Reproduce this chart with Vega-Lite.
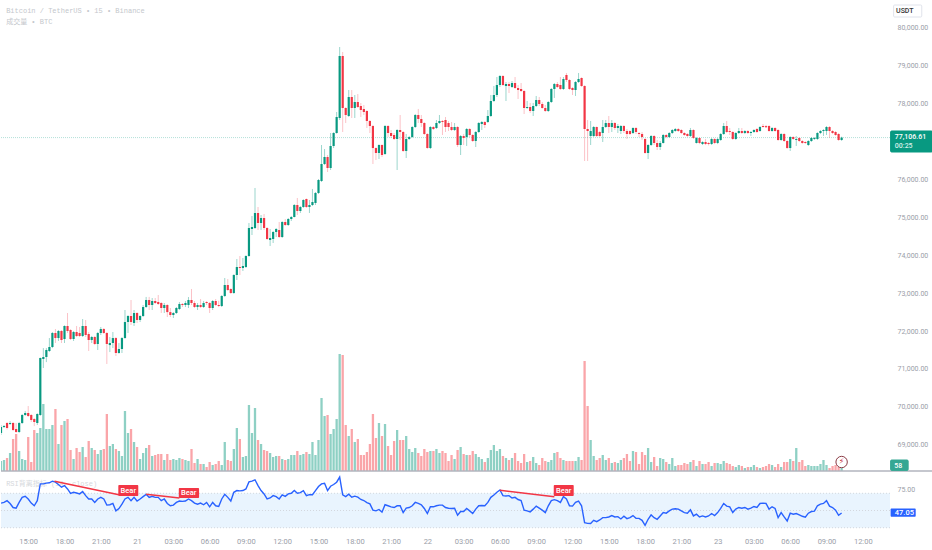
{"$schema":"https://vega.github.io/schema/vega-lite/v6.json","background":"white","padding":0,"spacing":1,"config":{"view":{"stroke":null},"text":{"font":"Roboto"}},
"datasets":{"bars":[
{"i":0,"o":69308,"h":69520,"l":69255,"c":69466,"v":150,"r":58.6},
{"i":1,"o":69466,"h":69520,"l":69440,"c":69490,"v":165,"r":59.4},
{"i":2,"o":69572,"h":69600,"l":69400,"c":69440,"v":195,"r":61.4},
{"i":3,"o":69545,"h":69620,"l":69520,"c":69572,"v":270,"r":58.2},
{"i":4,"o":69572,"h":69600,"l":69360,"c":69387,"v":480,"r":53.5},
{"i":5,"o":69413,"h":69570,"l":69310,"c":69335,"v":555,"r":52.7},
{"i":6,"o":69335,"h":69600,"l":69310,"c":69572,"v":300,"r":59.4},
{"i":7,"o":69572,"h":69810,"l":69545,"c":69783,"v":180,"r":65.3},
{"i":8,"o":69783,"h":69890,"l":69760,"c":69836,"v":165,"r":66.5},
{"i":9,"o":69836,"h":70020,"l":69730,"c":69757,"v":510,"r":63.4},
{"i":10,"o":69783,"h":69810,"l":69600,"c":69651,"v":135,"r":58.6},
{"i":11,"o":69677,"h":69700,"l":69490,"c":69598,"v":615,"r":55.5},
{"i":12,"o":69572,"h":69830,"l":69520,"c":69810,"v":570,"r":61.4},
{"i":13,"o":69783,"h":71300,"l":69760,"c":71288,"v":645,"r":81},
{"i":14,"o":71262,"h":71550,"l":71024,"c":71315,"v":1005,"r":81},
{"i":15,"o":71315,"h":71550,"l":71180,"c":71499,"v":630,"r":81.8},
{"i":16,"o":71473,"h":71815,"l":71445,"c":71578,"v":630,"r":82.2},
{"i":17,"o":71578,"h":71975,"l":71550,"c":71948,"v":690,"r":84.1},
{"i":18,"o":71948,"h":72053,"l":71684,"c":71815,"v":930,"r":82.9},
{"i":19,"o":71815,"h":72027,"l":71737,"c":72001,"v":405,"r":80.2},
{"i":20,"o":72001,"h":72027,"l":71684,"c":71763,"v":690,"r":77.1},
{"i":21,"o":71790,"h":72150,"l":71684,"c":72133,"v":750,"r":79},
{"i":22,"o":72133,"h":72476,"l":71948,"c":72001,"v":780,"r":75.1},
{"i":23,"o":72027,"h":72050,"l":71763,"c":71790,"v":315,"r":70},
{"i":24,"o":71790,"h":72000,"l":71737,"c":71974,"v":180,"r":71.2},
{"i":25,"o":71974,"h":72133,"l":71842,"c":71868,"v":345,"r":70.4},
{"i":26,"o":71948,"h":72106,"l":71842,"c":71868,"v":285,"r":69.3},
{"i":27,"o":71868,"h":72317,"l":71842,"c":72133,"v":360,"r":72},
{"i":28,"o":72133,"h":72291,"l":71842,"c":71895,"v":210,"r":67.3},
{"i":29,"o":71921,"h":71975,"l":71473,"c":71763,"v":450,"r":63.4},
{"i":30,"o":71763,"h":71870,"l":71684,"c":71842,"v":345,"r":63.4},
{"i":31,"o":71842,"h":71870,"l":71630,"c":71657,"v":315,"r":59.4},
{"i":32,"o":71657,"h":71975,"l":71499,"c":71948,"v":255,"r":63.4},
{"i":33,"o":71948,"h":72106,"l":71895,"c":72053,"v":315,"r":65.3},
{"i":34,"o":72053,"h":72080,"l":71921,"c":71948,"v":330,"r":63.4},
{"i":35,"o":71948,"h":71975,"l":71130,"c":71657,"v":855,"r":56.3},
{"i":36,"o":71630,"h":71842,"l":71445,"c":71684,"v":375,"r":56.7},
{"i":37,"o":71684,"h":71974,"l":71552,"c":71815,"v":405,"r":58.2},
{"i":38,"o":71815,"h":71840,"l":71340,"c":71420,"v":330,"r":49.6},
{"i":39,"o":71420,"h":71684,"l":71400,"c":71525,"v":300,"r":52.3},
{"i":40,"o":71525,"h":71840,"l":71420,"c":71815,"v":225,"r":57.4},
{"i":41,"o":71815,"h":72555,"l":71800,"c":72238,"v":900,"r":63.4},
{"i":42,"o":72238,"h":72420,"l":71948,"c":72397,"v":570,"r":65.3},
{"i":43,"o":72397,"h":72819,"l":72159,"c":72238,"v":630,"r":61.4},
{"i":44,"o":72212,"h":72555,"l":72133,"c":72476,"v":435,"r":65.3},
{"i":45,"o":72476,"h":72500,"l":72212,"c":72291,"v":360,"r":61},
{"i":46,"o":72291,"h":72420,"l":72238,"c":72397,"v":180,"r":63.4},
{"i":47,"o":72397,"h":72687,"l":72370,"c":72634,"v":270,"r":66.1},
{"i":48,"o":72634,"h":72900,"l":72610,"c":72819,"v":345,"r":68.8},
{"i":49,"o":72819,"h":72900,"l":72555,"c":72687,"v":390,"r":65.3},
{"i":50,"o":72687,"h":72872,"l":72555,"c":72793,"v":225,"r":66.5},
{"i":51,"o":72793,"h":72872,"l":72714,"c":72740,"v":240,"r":65.3},
{"i":52,"o":72766,"h":72951,"l":72687,"c":72714,"v":255,"r":65.3},
{"i":53,"o":72740,"h":72765,"l":72476,"c":72608,"v":255,"r":61.4},
{"i":54,"o":72608,"h":72740,"l":72476,"c":72687,"v":165,"r":63.4},
{"i":55,"o":72687,"h":72710,"l":72370,"c":72500,"v":255,"r":58.2},
{"i":56,"o":72500,"h":72608,"l":72370,"c":72423,"v":165,"r":55.5},
{"i":57,"o":72423,"h":72500,"l":72344,"c":72476,"v":180,"r":56.3},
{"i":58,"o":72476,"h":72634,"l":72450,"c":72608,"v":165,"r":59.4},
{"i":59,"o":72582,"h":72766,"l":72555,"c":72714,"v":195,"r":61},
{"i":60,"o":72714,"h":72740,"l":72634,"c":72687,"v":180,"r":60.6},
{"i":61,"o":72687,"h":72793,"l":72634,"c":72740,"v":165,"r":61},
{"i":62,"o":72687,"h":72898,"l":72608,"c":72819,"v":150,"r":63.4},
{"i":63,"o":72819,"h":73110,"l":72687,"c":72740,"v":330,"r":61.4},
{"i":64,"o":72740,"h":72793,"l":72608,"c":72634,"v":120,"r":58.6},
{"i":65,"o":72634,"h":72740,"l":72555,"c":72687,"v":180,"r":57.4},
{"i":66,"o":72687,"h":72845,"l":72610,"c":72634,"v":105,"r":58.6},
{"i":67,"o":72634,"h":72793,"l":72608,"c":72740,"v":105,"r":56.7},
{"i":68,"o":72766,"h":72790,"l":72687,"c":72740,"v":60,"r":59.4},
{"i":69,"o":72740,"h":72766,"l":72476,"c":72608,"v":135,"r":54.3},
{"i":70,"o":72608,"h":72819,"l":72555,"c":72793,"v":90,"r":59.4},
{"i":71,"o":72793,"h":72845,"l":72660,"c":72687,"v":105,"r":55.5},
{"i":72,"o":72687,"h":72800,"l":72630,"c":72660,"v":150,"r":54.7},
{"i":73,"o":72660,"h":72950,"l":72634,"c":72925,"v":90,"r":63.4},
{"i":74,"o":72925,"h":73400,"l":72898,"c":73215,"v":435,"r":68.8},
{"i":75,"o":73215,"h":73373,"l":73057,"c":73083,"v":165,"r":65.3},
{"i":76,"o":73110,"h":73130,"l":72977,"c":73004,"v":150,"r":61},
{"i":77,"o":73004,"h":73500,"l":72980,"c":73479,"v":330,"r":71.2},
{"i":78,"o":73479,"h":73901,"l":73347,"c":73690,"v":645,"r":73.2},
{"i":79,"o":73690,"h":73981,"l":73479,"c":73664,"v":480,"r":72.8},
{"i":80,"o":73664,"h":73928,"l":73585,"c":73717,"v":210,"r":73.2},
{"i":81,"o":73690,"h":74000,"l":73664,"c":73981,"v":225,"r":75.1},
{"i":82,"o":73981,"h":74852,"l":73960,"c":74720,"v":990,"r":83.3},
{"i":83,"o":74693,"h":75037,"l":74535,"c":74746,"v":570,"r":84.1},
{"i":84,"o":74720,"h":75776,"l":74693,"c":75116,"v":945,"r":85.7},
{"i":85,"o":75116,"h":75274,"l":74667,"c":74852,"v":465,"r":79},
{"i":86,"o":74852,"h":75063,"l":74667,"c":74984,"v":405,"r":73.2},
{"i":87,"o":74984,"h":75090,"l":74667,"c":74720,"v":315,"r":69.3},
{"i":88,"o":74720,"h":74745,"l":74403,"c":74430,"v":300,"r":63.4},
{"i":89,"o":74403,"h":74693,"l":74245,"c":74456,"v":270,"r":64.6},
{"i":90,"o":74430,"h":74640,"l":74324,"c":74614,"v":210,"r":67.3},
{"i":91,"o":74614,"h":74720,"l":74482,"c":74693,"v":225,"r":66.1},
{"i":92,"o":74667,"h":74878,"l":74456,"c":74482,"v":225,"r":63.4},
{"i":93,"o":74482,"h":74900,"l":74456,"c":74878,"v":180,"r":68.1},
{"i":94,"o":74878,"h":74957,"l":74773,"c":74799,"v":165,"r":66.5},
{"i":95,"o":74799,"h":74984,"l":74773,"c":74957,"v":180,"r":69.3},
{"i":96,"o":74957,"h":75037,"l":74905,"c":75010,"v":240,"r":70},
{"i":97,"o":75010,"h":75353,"l":75000,"c":75327,"v":240,"r":73.2},
{"i":98,"o":75327,"h":75512,"l":75063,"c":75169,"v":300,"r":70},
{"i":99,"o":75169,"h":75300,"l":75116,"c":75274,"v":240,"r":70.8},
{"i":100,"o":75274,"h":75480,"l":75250,"c":75459,"v":255,"r":73.1},
{"i":101,"o":75485,"h":75500,"l":75248,"c":75274,"v":285,"r":67.2},
{"i":102,"o":75274,"h":75459,"l":75116,"c":75327,"v":255,"r":68.4},
{"i":103,"o":75327,"h":75750,"l":75300,"c":75406,"v":435,"r":68.4},
{"i":104,"o":75380,"h":75670,"l":75327,"c":75644,"v":240,"r":73.1},
{"i":105,"o":75644,"h":76013,"l":75617,"c":75987,"v":465,"r":77.8},
{"i":106,"o":75960,"h":76911,"l":75934,"c":76409,"v":1095,"r":80.9},
{"i":107,"o":76409,"h":76805,"l":76383,"c":76594,"v":825,"r":81.7},
{"i":108,"o":76594,"h":76647,"l":76198,"c":76304,"v":840,"r":73.1},
{"i":109,"o":76304,"h":77228,"l":76251,"c":76885,"v":555,"r":78.2},
{"i":110,"o":76885,"h":77250,"l":76831,"c":77228,"v":630,"r":80.2},
{"i":111,"o":77228,"h":77782,"l":77210,"c":77650,"v":780,"r":82.9},
{"i":112,"o":77624,"h":79498,"l":77571,"c":79261,"v":1755,"r":88.9},
{"i":113,"o":79261,"h":79366,"l":77254,"c":77888,"v":1740,"r":68.2},
{"i":114,"o":77888,"h":77910,"l":77492,"c":77703,"v":690,"r":66.2},
{"i":115,"o":77677,"h":78363,"l":77650,"c":78178,"v":525,"r":69},
{"i":116,"o":78178,"h":78363,"l":77624,"c":77888,"v":630,"r":65.5},
{"i":117,"o":77888,"h":78231,"l":77624,"c":78046,"v":435,"r":66.7},
{"i":118,"o":78046,"h":78257,"l":77888,"c":77914,"v":480,"r":65.5},
{"i":119,"o":77941,"h":78020,"l":77650,"c":77835,"v":240,"r":62.8},
{"i":120,"o":77862,"h":77967,"l":77703,"c":77782,"v":240,"r":61.6},
{"i":121,"o":77809,"h":77830,"l":77360,"c":77545,"v":285,"r":59.2},
{"i":122,"o":77545,"h":77570,"l":77228,"c":77413,"v":405,"r":57.7},
{"i":123,"o":77413,"h":77440,"l":76409,"c":76831,"v":855,"r":50.4},
{"i":124,"o":76831,"h":76850,"l":76515,"c":76700,"v":495,"r":49.6},
{"i":125,"o":76700,"h":76930,"l":76541,"c":76911,"v":720,"r":51.2},
{"i":126,"o":76911,"h":76930,"l":76594,"c":76647,"v":525,"r":48.1},
{"i":127,"o":76673,"h":77440,"l":76647,"c":77413,"v":705,"r":56.7},
{"i":128,"o":77413,"h":77439,"l":77122,"c":77228,"v":375,"r":55.5},
{"i":129,"o":77228,"h":77307,"l":77096,"c":77149,"v":240,"r":54.3},
{"i":130,"o":77175,"h":77228,"l":77043,"c":77070,"v":450,"r":53.5},
{"i":131,"o":77070,"h":77330,"l":76251,"c":77307,"v":615,"r":55.5},
{"i":132,"o":77307,"h":77703,"l":77043,"c":77254,"v":465,"r":55.5},
{"i":133,"o":77254,"h":77280,"l":76726,"c":76753,"v":465,"r":47.6},
{"i":134,"o":76753,"h":77202,"l":76568,"c":77070,"v":525,"r":52.7},
{"i":135,"o":77070,"h":77150,"l":77043,"c":77122,"v":330,"r":53.5},
{"i":136,"o":77122,"h":77410,"l":77100,"c":77386,"v":285,"r":55.5},
{"i":137,"o":77386,"h":77730,"l":77360,"c":77703,"v":345,"r":59.4},
{"i":138,"o":77703,"h":77862,"l":77492,"c":77597,"v":270,"r":58.2},
{"i":139,"o":77597,"h":77703,"l":77386,"c":77492,"v":225,"r":56.7},
{"i":140,"o":77492,"h":77515,"l":77175,"c":77201,"v":330,"r":52.4},
{"i":141,"o":77201,"h":77225,"l":76810,"c":76831,"v":285,"r":46.5},
{"i":142,"o":76831,"h":77410,"l":76805,"c":77386,"v":300,"r":54.3},
{"i":143,"o":77386,"h":77410,"l":77307,"c":77333,"v":300,"r":54.3},
{"i":144,"o":77360,"h":77571,"l":77333,"c":77492,"v":330,"r":55.5},
{"i":145,"o":77492,"h":77703,"l":77465,"c":77545,"v":270,"r":56.3},
{"i":146,"o":77545,"h":77571,"l":77175,"c":77518,"v":300,"r":56.3},
{"i":147,"o":77571,"h":77650,"l":77254,"c":77386,"v":270,"r":53.5},
{"i":148,"o":77492,"h":77545,"l":77280,"c":77386,"v":150,"r":52.7},
{"i":149,"o":77386,"h":77518,"l":77280,"c":77307,"v":240,"r":52.4},
{"i":150,"o":77307,"h":77492,"l":77280,"c":77386,"v":180,"r":52.7},
{"i":151,"o":77386,"h":77410,"l":76858,"c":76911,"v":315,"r":44.5},
{"i":152,"o":76911,"h":77175,"l":76647,"c":77149,"v":360,"r":48.8},
{"i":153,"o":77149,"h":77202,"l":76911,"c":77096,"v":255,"r":48.8},
{"i":154,"o":77122,"h":77360,"l":76885,"c":77333,"v":240,"r":52.4},
{"i":155,"o":77333,"h":77360,"l":77122,"c":77175,"v":240,"r":49.6},
{"i":156,"o":77175,"h":77200,"l":76990,"c":77017,"v":300,"r":46.5},
{"i":157,"o":77017,"h":77280,"l":76858,"c":77254,"v":255,"r":51.6},
{"i":158,"o":77254,"h":77518,"l":77228,"c":77492,"v":210,"r":55.5},
{"i":159,"o":77465,"h":77545,"l":77307,"c":77518,"v":180,"r":55.9},
{"i":160,"o":77518,"h":77545,"l":77360,"c":77439,"v":135,"r":55.5},
{"i":161,"o":77518,"h":77835,"l":77492,"c":77677,"v":195,"r":59.4},
{"i":162,"o":77677,"h":78231,"l":77650,"c":78073,"v":315,"r":65.3},
{"i":163,"o":78073,"h":78469,"l":78046,"c":78231,"v":390,"r":68},
{"i":164,"o":78231,"h":78706,"l":78178,"c":78495,"v":300,"r":71.2},
{"i":165,"o":78495,"h":78759,"l":78442,"c":78733,"v":330,"r":73.9},
{"i":166,"o":78733,"h":78759,"l":78469,"c":78495,"v":225,"r":67.3},
{"i":167,"o":78469,"h":78574,"l":78073,"c":78521,"v":195,"r":66.9},
{"i":168,"o":78521,"h":78574,"l":78284,"c":78469,"v":165,"r":67.3},
{"i":169,"o":78442,"h":78600,"l":78416,"c":78548,"v":195,"r":64.5},
{"i":170,"o":78548,"h":78706,"l":78390,"c":78416,"v":270,"r":65.3},
{"i":171,"o":78416,"h":78495,"l":78126,"c":78363,"v":150,"r":62.8},
{"i":172,"o":78390,"h":78548,"l":78310,"c":78337,"v":120,"r":61.6},
{"i":173,"o":78337,"h":78360,"l":77729,"c":77888,"v":255,"r":50.4},
{"i":174,"o":77888,"h":78073,"l":77862,"c":77914,"v":135,"r":49.6},
{"i":175,"o":77914,"h":78020,"l":77756,"c":77809,"v":150,"r":48.4},
{"i":176,"o":77809,"h":78020,"l":77677,"c":77941,"v":210,"r":51.6},
{"i":177,"o":77941,"h":78205,"l":77914,"c":78099,"v":120,"r":55.1},
{"i":178,"o":78099,"h":78178,"l":77941,"c":77994,"v":90,"r":52.7},
{"i":179,"o":77994,"h":78046,"l":77870,"c":77888,"v":195,"r":50.4},
{"i":180,"o":77888,"h":77967,"l":77782,"c":77809,"v":150,"r":47.6},
{"i":181,"o":77809,"h":78070,"l":77782,"c":78046,"v":135,"r":55.5},
{"i":182,"o":78046,"h":78416,"l":78020,"c":78390,"v":165,"r":61.4},
{"i":183,"o":78390,"h":78548,"l":78152,"c":78521,"v":270,"r":62.6},
{"i":184,"o":78521,"h":78574,"l":78416,"c":78442,"v":285,"r":61.4},
{"i":185,"o":78495,"h":78706,"l":78363,"c":78390,"v":195,"r":59.4},
{"i":186,"o":78390,"h":78706,"l":78363,"c":78653,"v":165,"r":66.1},
{"i":187,"o":78759,"h":78812,"l":78574,"c":78627,"v":150,"r":63.4},
{"i":188,"o":78627,"h":78650,"l":78363,"c":78390,"v":150,"r":55.5},
{"i":189,"o":78416,"h":78440,"l":78231,"c":78363,"v":150,"r":55.1},
{"i":190,"o":78363,"h":78600,"l":78205,"c":78574,"v":150,"r":59.4},
{"i":191,"o":78574,"h":78812,"l":78548,"c":78653,"v":210,"r":61},
{"i":192,"o":78680,"h":78700,"l":78442,"c":78469,"v":165,"r":55.5},
{"i":193,"o":78469,"h":78490,"l":76489,"c":77333,"v":1650,"r":35.9},
{"i":194,"o":77333,"h":77571,"l":76489,"c":77280,"v":975,"r":35.1},
{"i":195,"o":77149,"h":77545,"l":76911,"c":77280,"v":465,"r":35},
{"i":196,"o":77149,"h":77413,"l":77122,"c":77386,"v":225,"r":38.6},
{"i":197,"o":77386,"h":77400,"l":77122,"c":77149,"v":165,"r":37.1},
{"i":198,"o":77254,"h":77280,"l":77122,"c":77149,"v":195,"r":39},
{"i":199,"o":77228,"h":77571,"l":76990,"c":77386,"v":240,"r":41.7},
{"i":200,"o":77386,"h":77571,"l":77360,"c":77492,"v":165,"r":41.7},
{"i":201,"o":77492,"h":77677,"l":77228,"c":77386,"v":195,"r":42.5},
{"i":202,"o":77386,"h":77571,"l":77254,"c":77492,"v":120,"r":44.1},
{"i":203,"o":77492,"h":77518,"l":77307,"c":77360,"v":135,"r":42.5},
{"i":204,"o":77360,"h":77465,"l":77228,"c":77413,"v":120,"r":42.9},
{"i":205,"o":77280,"h":77439,"l":77201,"c":77413,"v":165,"r":40.2},
{"i":206,"o":77413,"h":77439,"l":77228,"c":77280,"v":195,"r":43.3},
{"i":207,"o":77280,"h":77333,"l":77070,"c":77201,"v":255,"r":40.6},
{"i":208,"o":77280,"h":77300,"l":77175,"c":77201,"v":150,"r":41.7},
{"i":209,"o":77228,"h":77380,"l":77201,"c":77360,"v":300,"r":44.1},
{"i":210,"o":77360,"h":77386,"l":77201,"c":77254,"v":285,"r":40.9},
{"i":211,"o":77228,"h":77254,"l":77122,"c":77201,"v":105,"r":40.9},
{"i":212,"o":77201,"h":77254,"l":77043,"c":77122,"v":285,"r":38.6},
{"i":213,"o":77070,"h":77096,"l":76680,"c":76700,"v":240,"r":32.7},
{"i":214,"o":76700,"h":76935,"l":76541,"c":76911,"v":345,"r":39.8},
{"i":215,"o":76911,"h":77175,"l":76885,"c":77149,"v":135,"r":44.9},
{"i":216,"o":77149,"h":77175,"l":76911,"c":76964,"v":210,"r":41.7},
{"i":217,"o":76964,"h":77043,"l":76779,"c":76858,"v":75,"r":39.8},
{"i":218,"o":76858,"h":77017,"l":76779,"c":76964,"v":195,"r":43.7},
{"i":219,"o":76964,"h":77201,"l":76950,"c":77175,"v":180,"r":47.6},
{"i":220,"o":77175,"h":77200,"l":77090,"c":77122,"v":135,"r":46.9},
{"i":221,"o":77122,"h":77254,"l":77096,"c":77228,"v":105,"r":49.6},
{"i":222,"o":77228,"h":77333,"l":77201,"c":77307,"v":195,"r":51.6},
{"i":223,"o":77280,"h":77360,"l":77260,"c":77333,"v":75,"r":52},
{"i":224,"o":77333,"h":77360,"l":77254,"c":77280,"v":90,"r":51.6},
{"i":225,"o":77307,"h":77330,"l":77200,"c":77228,"v":90,"r":49.6},
{"i":226,"o":77228,"h":77250,"l":77150,"c":77175,"v":120,"r":47.6},
{"i":227,"o":77201,"h":77225,"l":77125,"c":77149,"v":105,"r":46.9},
{"i":228,"o":77149,"h":77360,"l":77122,"c":77307,"v":135,"r":50.8},
{"i":229,"o":77307,"h":77330,"l":77070,"c":77096,"v":165,"r":43.7},
{"i":230,"o":76964,"h":77122,"l":76950,"c":77096,"v":75,"r":45.7},
{"i":231,"o":77096,"h":77120,"l":76935,"c":76964,"v":150,"r":42.5},
{"i":232,"o":76937,"h":77010,"l":76910,"c":76990,"v":105,"r":43.7},
{"i":233,"o":76990,"h":77070,"l":76910,"c":76937,"v":105,"r":42.5},
{"i":234,"o":76964,"h":76990,"l":76900,"c":76937,"v":135,"r":43.7},
{"i":235,"o":76937,"h":77095,"l":76911,"c":77070,"v":75,"r":46.5},
{"i":236,"o":77070,"h":77095,"l":76935,"c":76964,"v":120,"r":44.1},
{"i":237,"o":76964,"h":77095,"l":76935,"c":77070,"v":120,"r":47.6},
{"i":238,"o":77043,"h":77225,"l":77020,"c":77201,"v":105,"r":52.4},
{"i":239,"o":77201,"h":77492,"l":77175,"c":77413,"v":150,"r":58.2},
{"i":240,"o":77413,"h":77545,"l":77230,"c":77254,"v":120,"r":55.1},
{"i":241,"o":77280,"h":77360,"l":77175,"c":77254,"v":105,"r":54.3},
{"i":242,"o":77254,"h":77275,"l":77045,"c":77070,"v":75,"r":47.6},
{"i":243,"o":77070,"h":77250,"l":77045,"c":77228,"v":60,"r":51.6},
{"i":244,"o":77228,"h":77360,"l":77201,"c":77280,"v":90,"r":53.5},
{"i":245,"o":77280,"h":77360,"l":77201,"c":77228,"v":75,"r":52.7},
{"i":246,"o":77228,"h":77305,"l":77200,"c":77280,"v":45,"r":53.5},
{"i":247,"o":77280,"h":77305,"l":77200,"c":77228,"v":60,"r":51.6},
{"i":248,"o":77228,"h":77280,"l":77149,"c":77254,"v":60,"r":52.7},
{"i":249,"o":77254,"h":77330,"l":77230,"c":77307,"v":90,"r":54.7},
{"i":250,"o":77333,"h":77360,"l":77230,"c":77254,"v":60,"r":53.5},
{"i":251,"o":77280,"h":77410,"l":77260,"c":77386,"v":45,"r":58.2},
{"i":252,"o":77413,"h":77465,"l":77370,"c":77386,"v":60,"r":58.6},
{"i":253,"o":77410,"h":77440,"l":77360,"c":77380,"v":75,"r":58.2},
{"i":254,"o":77413,"h":77435,"l":77260,"c":77280,"v":105,"r":51.6},
{"i":255,"o":77280,"h":77385,"l":77260,"c":77360,"v":90,"r":54.3},
{"i":256,"o":77360,"h":77385,"l":77260,"c":77280,"v":60,"r":52.4},
{"i":257,"o":77307,"h":77330,"l":77020,"c":77043,"v":105,"r":41.7},
{"i":258,"o":77043,"h":77225,"l":77020,"c":77201,"v":60,"r":47.6},
{"i":259,"o":77201,"h":77225,"l":76990,"c":77017,"v":135,"r":42.5},
{"i":260,"o":77017,"h":77040,"l":76810,"c":76831,"v":135,"r":37.8},
{"i":261,"o":76831,"h":77145,"l":76753,"c":77122,"v":180,"r":46.9},
{"i":262,"o":77122,"h":77145,"l":77045,"c":77070,"v":150,"r":45.7},
{"i":263,"o":77043,"h":77149,"l":76885,"c":77070,"v":345,"r":46.5},
{"i":264,"o":77096,"h":77120,"l":76990,"c":77017,"v":135,"r":44.9},
{"i":265,"o":77017,"h":77040,"l":76940,"c":76964,"v":165,"r":43.3},
{"i":266,"o":76990,"h":77010,"l":76940,"c":76964,"v":75,"r":42.2},
{"i":267,"o":76911,"h":77040,"l":76885,"c":77017,"v":90,"r":46.9},
{"i":268,"o":77017,"h":77120,"l":76990,"c":77096,"v":75,"r":48.8},
{"i":269,"o":77070,"h":77120,"l":77045,"c":77096,"v":75,"r":49.2},
{"i":270,"o":77070,"h":77250,"l":77045,"c":77228,"v":75,"r":55.5},
{"i":271,"o":77228,"h":77305,"l":77200,"c":77280,"v":105,"r":57.4},
{"i":272,"o":77280,"h":77330,"l":77150,"c":77307,"v":165,"r":58.2},
{"i":273,"o":77280,"h":77410,"l":77175,"c":77386,"v":90,"r":61.4},
{"i":274,"o":77386,"h":77410,"l":77100,"c":77280,"v":45,"r":55.1},
{"i":275,"o":77280,"h":77305,"l":77200,"c":77228,"v":75,"r":53.5},
{"i":276,"o":77254,"h":77280,"l":77150,"c":77175,"v":90,"r":50.4},
{"i":277,"o":77201,"h":77225,"l":77020,"c":77043,"v":60,"r":44.5},
{"i":278,"o":77043,"h":77130,"l":77020,"c":77107,"v":58,"r":47.05}
]},
"vconcat":[
{"width":889,"height":471,"resolve":{"scale":{"y":"independent"}},
"encoding":{"x":{"field":"i","type":"quantitative","scale":{"domain":[0,294],"nice":false,"zero":false,"padding":0},"axis":null}},
"layer":[
{"data":{"name":"bars"},"mark":{"type":"bar","orient":"vertical","size":2.3,"clip":true},
"encoding":{"y":{"field":"v","type":"quantitative","scale":{"domain":[0,7065],"nice":false},"axis":null},
"color":{"condition":{"test":"datum.c>=datum.o","value":"#8ed0c4"},"value":"#faa5a9"}}},
{"layer":[
{"data":{"values":[{"i":0,"i2":294,"p":77107}]},"mark":{"type":"rule","color":"#089981","opacity":0.3,"strokeDash":[1,1],"strokeWidth":1},
"encoding":{"x2":{"field":"i2"},"y":{"field":"p","type":"quantitative","scale":{"domain":[68305,80739],"nice":false,"zero":false},
"axis":{"orient":"right","values":[69000,70000,71000,72000,73000,74000,75000,76000,78000,79000,80000],"format":",.2f","title":null,"grid":false,"domain":false,"ticks":false,"labelAlign":"left","labelPadding":7,"labelFont":"Roboto","labelFontSize":7,"labelColor":"#9a9ea8"}}}},
{"data":{"name":"bars"},"mark":{"type":"rule","strokeWidth":1,"clip":true},
"encoding":{"y":{"field":"l","type":"quantitative","scale":{"domain":[68305,80739],"nice":false,"zero":false}},"y2":{"field":"h"},
"color":{"condition":{"test":"datum.c>=datum.o","value":"#089981"},"value":"#F23645"},"opacity":{"condition":{"test":"datum.c>=datum.o","value":0.4},"value":0.3}}},
{"data":{"name":"bars"},"mark":{"type":"bar","orient":"vertical","size":2.2,"clip":true},
"encoding":{"y":{"field":"o","type":"quantitative","scale":{"domain":[68305,80739],"nice":false,"zero":false}},"y2":{"field":"c"},
"color":{"condition":{"test":"datum.c>=datum.o","value":"#089981"},"value":"#F23645"}}},
{"data":{"values":[{"i":0,"i2":308,"p":68305}]},"mark":{"type":"rule","color":"#b2b5be","strokeWidth":1.5},
"encoding":{"x2":{"field":"i2"},"y":{"field":"p","type":"quantitative","scale":{"domain":[68305,80739],"nice":false,"zero":false}}}},
{"data":{"values":[{"i":278,"p":68542}]},"mark":{"type":"point","shape":"circle","size":130,"fill":"white","opacity":1,"stroke":"#8a3a44","strokeWidth":1},
"encoding":{"y":{"field":"p","type":"quantitative","scale":{"domain":[68305,80739],"nice":false,"zero":false}}}},
{"data":{"values":[{"i":278,"p":68530,"t":"⚡"}]},"mark":{"type":"text","font":"DejaVu Sans","fontSize":8,"color":"#c2273a"},
"encoding":{"y":{"field":"p","type":"quantitative","scale":{"domain":[68305,80739],"nice":false,"zero":false}},"text":{"field":"t"}}},
{"data":{"values":[{"i":295.2,"i2":304.5,"p":80607,"p2":80290,"f":"#ffffff","s":"#e0e3eb"},{"i":294.2,"i2":308,"p":77281,"p2":76726,"f":"#089981","s":"#089981"},{"i":294.2,"i2":300,"p":68595,"p2":68320,"f":"#35a793","s":"#35a793"}]},
"mark":{"type":"rect","cornerRadius":1},
"encoding":{"x2":{"field":"i2"},"y":{"field":"p","type":"quantitative","scale":{"domain":[68305,80739],"nice":false,"zero":false}},"y2":{"field":"p2"},
"fill":{"field":"f","type":"nominal","scale":null},"stroke":{"field":"s","type":"nominal","scale":null}}},
{"data":{"values":[{"i":296,"p":80449,"t":"USDT","k":"#333333"},{"i":295.6,"p":77115,"t":"77,106.61","k":"#ffffff"},{"i":295.6,"p":76885,"t":"00:25","k":"#d5efe9"},{"i":295.4,"p":68450,"t":"58","k":"#ffffff"}]},
"mark":{"type":"text","align":"left","font":"Roboto","fontSize":7,"fontWeight":500},
"encoding":{"y":{"field":"p","type":"quantitative","scale":{"domain":[68305,80739],"nice":false,"zero":false}},"text":{"field":"t"},"color":{"field":"k","type":"nominal","scale":null}}},
{"data":{"values":[{"i":1.7,"p":80449,"t":"Bitcoin / TetherUS • 15 • Binance"},{"i":1.7,"p":80158,"t":"成交量 • BTC"}]},
"mark":{"type":"text","align":"left","font":"Liberation Mono, Noto Sans CJK SC","fontSize":7,"color":"#c4c7cc"},
"encoding":{"y":{"field":"p","type":"quantitative","scale":{"domain":[68305,80739],"nice":false,"zero":false}},"text":{"field":"t"}}}
]}
]},
{"width":889,"height":61,
"encoding":{"x":{"field":"i","type":"quantitative","scale":{"domain":[0,294],"nice":false,"zero":false},
"axis":{"values":[9,21,33,45,57,69,81,93,105,117,129,141,153,165,177,189,201,213,225,237,249,261,273,285],"labelExpr":"datum.value==45?'21':datum.value==141?'22':datum.value==237?'23':['15:00','18:00','21:00','00:00','03:00','06:00','09:00','12:00'][((datum.value-9)/12)%8]","title":null,"grid":false,"domain":false,"ticks":false,"labelPadding":3,"labelFont":"Roboto","labelFontSize":7.5,"labelColor":"#9a9ea8","labelOverlap":false,"labelFlush":false}},
"y":{"field":"r","type":"quantitative","scale":{"domain":[22.7,93.6],"nice":false,"zero":false},
"axis":{"orient":"right","values":[75],"format":".2f","title":null,"grid":false,"domain":false,"ticks":false,"labelAlign":"left","labelPadding":7,"labelFont":"Roboto","labelFontSize":7,"labelColor":"#9a9ea8"}}},
"layer":[
{"data":{"values":[{"i":0,"i2":294,"r":70,"r2":30}]},"mark":{"type":"rect","fill":"#e9f4fe"},"encoding":{"x2":{"field":"i2"},"y2":{"field":"r2"}}},
{"data":{"values":[{"i":0,"i2":294,"r":70},{"i":0,"i2":294,"r":50},{"i":0,"i2":294,"r":30}]},"mark":{"type":"rule","color":"#d3d7de","strokeDash":[1,2],"strokeWidth":1},"encoding":{"x2":{"field":"i2"}}},
{"data":{"values":[{"i":1.7,"r":80.8,"t":"RSI背离指标 (14, close)"}]},"mark":{"type":"text","align":"left","font":"Liberation Mono, Noto Sans CJK SC","fontSize":7,"color":"#d5d8dc"},"encoding":{"text":{"field":"t"}}},
{"data":{"name":"bars"},"mark":{"type":"line","color":"#2962FF","strokeWidth":1.4,"clip":true},"encoding":{"order":{"field":"i"}}},
{"data":{"values":[{"i":17.7,"r":84.1,"s":"a"},{"i":39,"r":68.4,"s":"a"},{"i":48,"r":68.8,"s":"b"},{"i":59,"r":64.5,"s":"b"},{"i":165,"r":73.5,"s":"c"},{"i":183,"r":66,"s":"c"}]},"mark":{"type":"line","color":"#F23645","strokeWidth":1.5},"encoding":{"detail":{"field":"s"}}},
{"data":{"values":[{"i":38.8,"i2":45.4,"r":79.6,"r2":66.9},{"i":58.8,"i2":65.5,"r":76.2,"r2":64.5},{"i":182.8,"i2":189.4,"r":79.6,"r2":66.9}]},"mark":{"type":"rect","fill":"#F23645","cornerRadius":1},"encoding":{"x2":{"field":"i2"},"y2":{"field":"r2"}}},
{"data":{"values":[{"i":42.1,"r":73.2,"t":"Bear"},{"i":62.1,"r":70.3,"t":"Bear"},{"i":186.1,"r":73.2,"t":"Bear"}]},"mark":{"type":"text","font":"Roboto","fontSize":7.5,"fontWeight":500,"color":"#ffffff"},"encoding":{"text":{"field":"t"}}},
{"data":{"values":[{"i":294.2,"i2":302.5,"r":52.2,"r2":42.7}]},"mark":{"type":"rect","fill":"#2962FF","cornerRadius":1},"encoding":{"x2":{"field":"i2"},"y2":{"field":"r2"}}},
{"data":{"values":[{"i":295.6,"r":47.2,"t":"47.05"}]},"mark":{"type":"text","align":"left","font":"Roboto","fontSize":7.5,"fontWeight":500,"color":"#ffffff"},"encoding":{"text":{"field":"t"}}}
]}
]}
